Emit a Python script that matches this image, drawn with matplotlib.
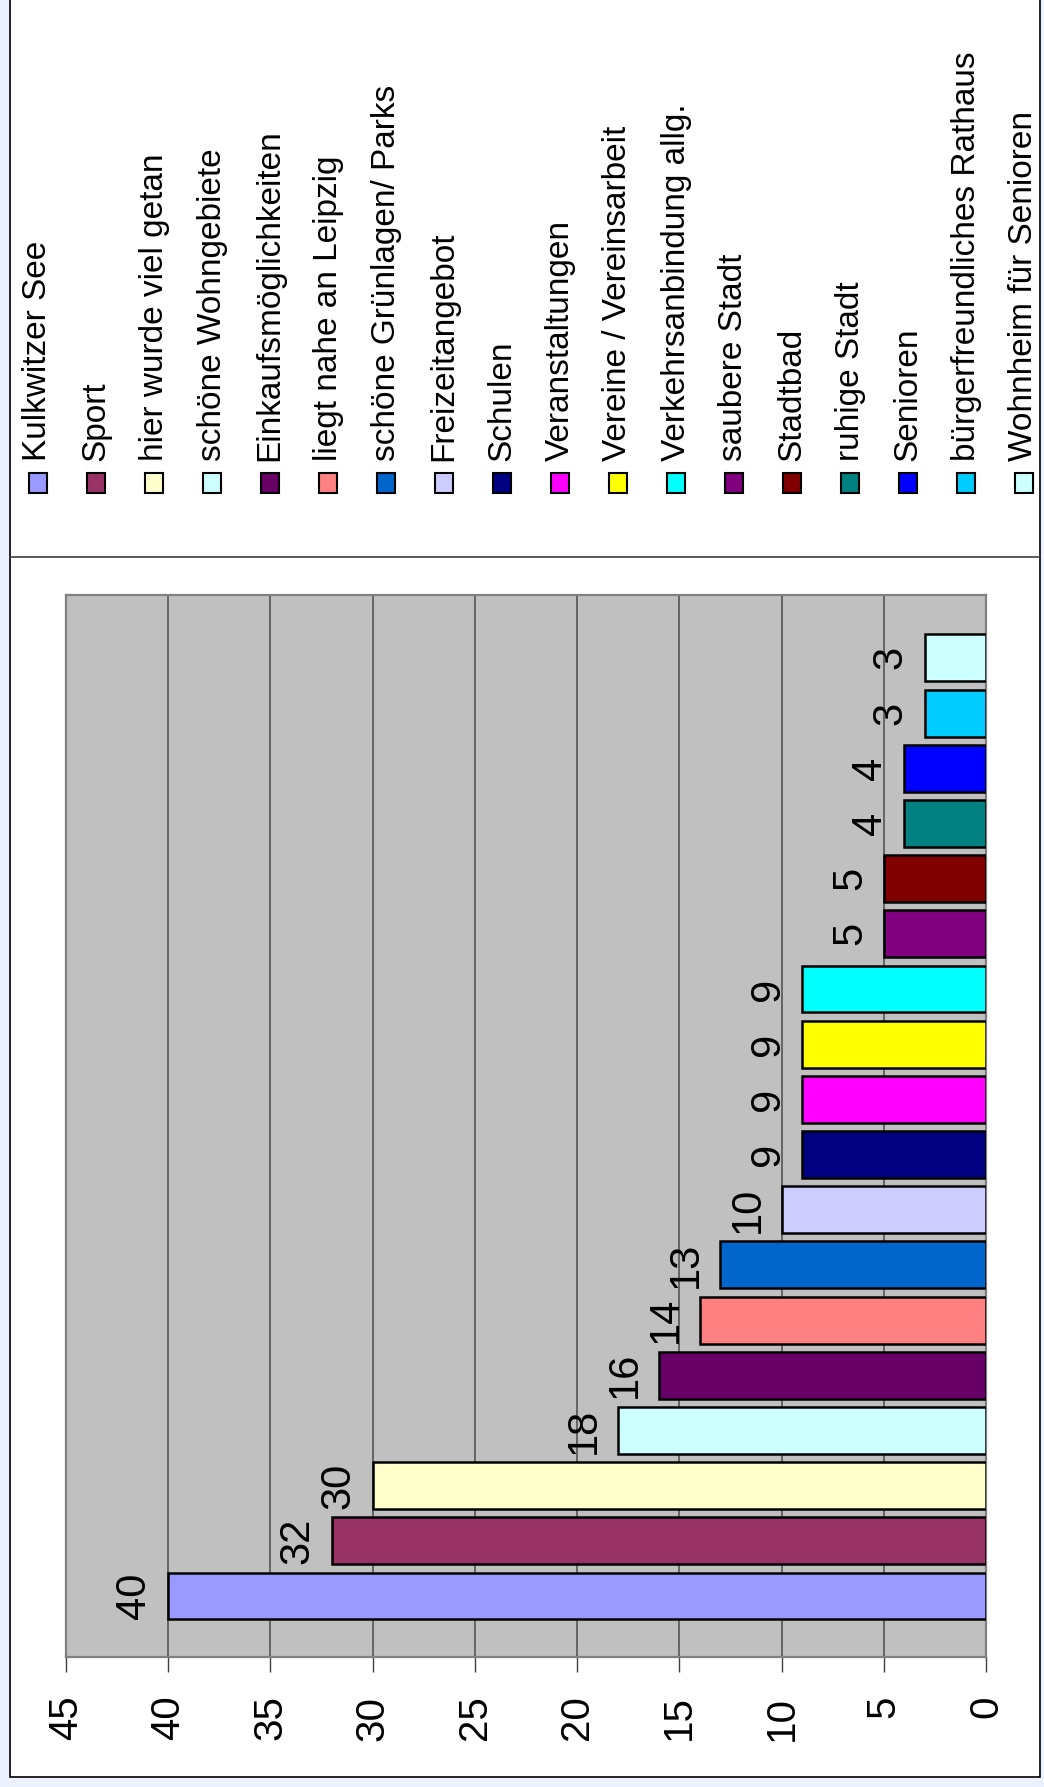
import matplotlib
matplotlib.use("Agg")
import matplotlib.pyplot as plt
from matplotlib.patches import Rectangle
from matplotlib.lines import Line2D

# chart is drawn turned by 90 degrees, like the scanned original
categories = ["Kulkwitzer See", "Sport", "hier wurde viel getan", "schöne Wohngebiete",
              "Einkaufsmöglichkeiten", "liegt nahe an Leipzig", "schöne Grünlagen/ Parks",
              "Freizeitangebot", "Schulen", "Veranstaltungen", "Vereine / Vereinsarbeit",
              "Verkehrsanbindung allg.", "saubere Stadt", "Stadtbad", "ruhige Stadt",
              "Senioren", "bürgerfreundliches Rathaus", "Wohnheim für Senioren"]
values = [40, 32, 30, 18, 16, 14, 13, 10, 9, 9, 9, 9, 5, 5, 4, 4, 3, 3]
colors = ["#9999FF", "#993366", "#FFFFCC", "#CCFFFF", "#660066", "#FF8080", "#0066CC",
          "#CCCCFF", "#000080", "#FF00FF", "#FFFF00", "#00FFFF", "#800080", "#800000",
          "#008080", "#0000FF", "#00CCFF", "#CCFFFF"]
ticks = [0, 5, 10, 15, 20, 25, 30, 35, 40, 45]

W, H = 1044, 1787
plt.rcParams['font.family'] = ['Liberation Sans', 'DejaVu Sans']


def fx(px):
    return px / W


def fy(py):
    return 1 - py / H


fig = plt.figure(figsize=(W / 100, H / 100), dpi=100)
fig.patch.set_facecolor("#EBF1FE")

# white chart area with frame
fig.add_artist(Rectangle((fx(10), fy(1777)), fx(1040) - fx(10), 1 - fy(1777) + 0.02,
                         transform=fig.transFigure, facecolor="white", edgecolor="black",
                         lw=1.2, zorder=0))
# legend separator
fig.add_artist(Line2D([fx(10), fx(1040)], [fy(557), fy(557)], transform=fig.transFigure,
                      color="#404040", lw=1.2))

ax = fig.add_axes([fx(66), fy(1657), fx(986) - fx(66), fy(595) - fy(1657)])
ax.set_facecolor("#C0C0C0")

ypos = list(range(len(values)))
ax.barh(ypos, values, height=0.85, color=colors, edgecolor="black", lw=1.8, zorder=3)
ax.set_xlim(45, 0)
ax.set_ylim(-1.105, 18.14)

for i, v in enumerate(values):
    ax.annotate(str(v), xy=(v, i), xytext=(-10, 0), textcoords="offset points",
                rotation=90, ha="right", va="center", fontsize=30, zorder=4)

ax.set_xticks(ticks)
ax.set_xticklabels([str(t) for t in ticks], rotation=90, fontsize=29)
ax.set_yticks([])
ax.tick_params(axis="x", direction="out", length=10.8, width=1, color="#404040", pad=17)
ax.grid(axis="x", color="#555555", lw=1.2)
ax.set_axisbelow(True)
for s in ax.spines.values():
    s.set_color("#808080")
    s.set_linewidth(1.6)

# legend, entries side by side
for i, (name, c) in enumerate(zip(categories, colors)):
    cx = 38 + 58 * i
    fig.add_artist(Rectangle((fx(cx - 9), fy(493)), fx(18), 20 / H, transform=fig.transFigure,
                             facecolor=c, edgecolor="black", lw=1.5))
    fig.text(fx(cx), fy(461), name, rotation=90, ha="center", va="bottom", fontsize=24)

fig.savefig("out.png", dpi=100)
